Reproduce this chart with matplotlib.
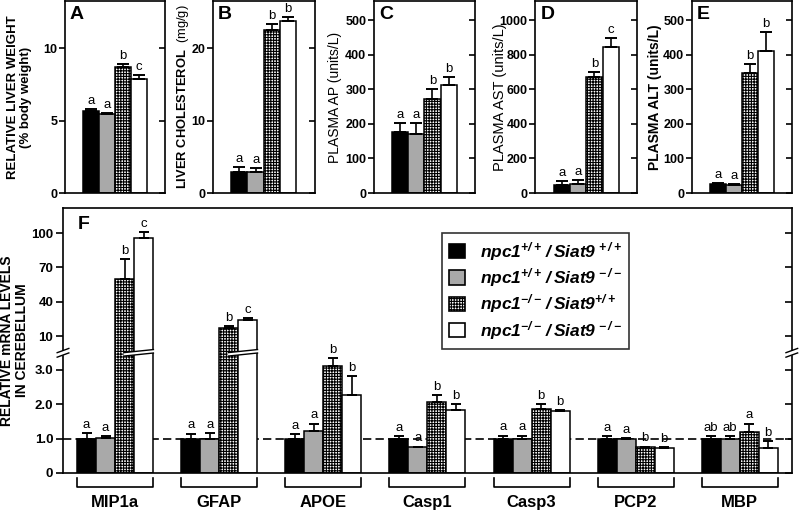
import numpy as np
import matplotlib
matplotlib.use("Agg")
import matplotlib.pyplot as plt
import matplotlib.transforms as mtransforms
from matplotlib.patches import Patch, Polygon

plt.rcParams['font.family'] = 'Liberation Sans'
plt.rcParams['mathtext.fontset'] = 'custom'
plt.rcParams['mathtext.it'] = 'Liberation Sans:bold:italic'
plt.rcParams['mathtext.rm'] = 'Liberation Sans:bold:italic'
plt.rcParams['mathtext.bf'] = 'Liberation Sans:bold'
plt.rcParams['hatch.linewidth'] = 0.8

# genotypes
genotypes = [r'$npc1^{+/+}\,/\,Siat9^{\,+/+}$',
             r'$npc1^{+/+}\,/\,Siat9^{\,-/-}$',
             r'$npc1^{-/-}\,/\,Siat9^{+/+}$',
             r'$npc1^{-/-}\,/\,Siat9^{\,-/-}$']
colors = ['black', '#a9a9a9', 'white', 'white']
hatches = [None, None, '++++++', None]

# panel A-E: liver / plasma
liver_wt = [5.66, 5.45, 8.71, 7.86]
liver_wt_err = [0.11, 0.05, 0.19, 0.28]
liver_wt_sig = ['a', 'a', 'b', 'c']

chol = [2.9, 2.9, 22.5, 23.8]
chol_err = [0.7, 0.6, 0.8, 0.45]
chol_sig = ['a', 'a', 'b', 'b']

ap = [177, 171, 272, 312]
ap_err = [25, 31, 28, 24]
ap_sig = ['a', 'a', 'b', 'b']

ast = [46, 52, 670, 846]
ast_err = [23, 23, 31, 52]
ast_sig = ['a', 'a', 'b', 'c']

alt = [26, 23, 347, 410]
alt_err = [3, 3, 26, 56]
alt_sig = ['a', 'a', 'b', 'b']

# panel F: mRNA levels in cerebellum
genes = ['MIP1a', 'GFAP', 'APOE', 'Casp1', 'Casp3', 'PCP2', 'MBP']
mrna = [
    [1.0, 1.0, 1.0, 1.0, 1.0, 1.0, 1.0],
    [1.03, 1.0, 1.21, 0.75, 1.0, 1.0, 1.0],
    [59.6, 17.0, 3.11, 2.07, 1.87, 0.75, 1.19],
    [96.0, 24.0, 2.28, 1.84, 1.82, 0.73, 0.72],
]
mrna_err = [
    [0.17, 0.15, 0.13, 0.08, 0.09, 0.07, 0.07],
    [0.04, 0.17, 0.23, 0.02, 0.09, 0.01, 0.07],
    [17.4, 1.7, 0.23, 0.21, 0.15, 0.02, 0.25],
    [5.0, 1.6, 0.54, 0.16, 0.02, 0.02, 0.21],
]
mrna_sig = [
    ['a', 'a', 'a', 'a', 'a', 'a', 'ab'],
    ['a', 'a', 'a', 'a', 'a', 'a', 'ab'],
    ['b', 'b', 'b', 'b', 'b', 'b', 'a'],
    ['c', 'c', 'b', 'b', 'b', 'b', 'b'],
]

fig = plt.figure(figsize=(8, 5.12), dpi=100)


def right_ticks(ax, length):
    ax2 = fig.add_axes(ax.get_position(), sharey=ax)
    ax2.patch.set_visible(False)
    for s in ax2.spines.values():
        s.set_visible(False)
    ax2.xaxis.set_visible(False)
    ax2.yaxis.tick_right()
    ax2.tick_params(axis='y', direction='in', length=length, width=1.2,
                    labelright=False)
    return ax2


def small_panel(rect, vals, errs, sig, ytop, ticks, ylabel, lab_x, letter,
                lab_size=9, lab_weight='bold'):
    ax = fig.add_axes(rect)
    xs = np.arange(4)
    bars = ax.bar(xs, vals, width=1.0, color=colors, edgecolor='black',
                  linewidth=1.1, zorder=2)
    for b, h in zip(bars, hatches):
        if h:
            b.set_hatch(h)
    ax.errorbar(xs, vals, yerr=[np.zeros(4), errs], fmt='none',
                ecolor='black', elinewidth=1.2, capsize=4, capthick=1.4,
                zorder=3)
    for x, v, e, s in zip(xs, vals, errs, sig):
        ax.annotate(s, (x, v + e), xytext=(0, 1.5), textcoords='offset points',
                    ha='center', va='bottom', fontsize=9.5)
    ax.set_xlim(-1.625, 4.625)
    ax.set_ylim(0, ytop)
    ax.set_xticks([])
    ax.set_yticks(ticks)
    ax.set_yticklabels([str(t) for t in ticks], fontweight='bold', fontsize=9)
    ax.tick_params(axis='y', direction='out', length=4, width=1.2, pad=1.5)
    for s in ax.spines.values():
        s.set_linewidth(1.2)
    ax.set_ylabel(ylabel, fontsize=lab_size, fontweight=lab_weight,
                  linespacing=1.15)
    ax.yaxis.set_label_coords(lab_x, 0.5)
    ax.text(0.05, 0.975, letter, transform=ax.transAxes, ha='left', va='top',
            fontsize=14, fontweight='bold')
    right_ticks(ax, 4)
    return ax


top_y, top_h = 0.623, 0.375
small_panel([0.08125, top_y, 0.125, top_h], liver_wt, liver_wt_err,
            liver_wt_sig, 13.24, [0, 5, 10],
            'RELATIVE LIVER WEIGHT\n(% body weight)', -0.33, 'A', 9.5)
small_panel([0.266, top_y, 0.1275, top_h], chol, chol_err, chol_sig, 26.5,
            [0, 10, 20], r'$\mathbf{LIVER\ CHOLESTEROL}$  (mg/g)', -0.21, 'B',
            9.3, 'normal')
small_panel([0.4675, top_y, 0.126, top_h], ap, ap_err, ap_sig, 555,
            [0, 100, 200, 300, 400, 500], 'PLASMA AP (units/L)', -0.32, 'C',
            10, 'normal')
small_panel([0.669, top_y, 0.1275, top_h], ast, ast_err, ast_sig, 1110,
            [0, 200, 400, 600, 800, 1000], 'PLASMA AST (units/L)', -0.28, 'D',
            10.5, 'normal')
small_panel([0.865, top_y, 0.125, top_h], alt, alt_err, alt_sig, 555,
            [0, 100, 200, 300, 400, 500], 'PLASMA ALT (units/L)', -0.30, 'E',
            10, 'bold')

# ---- panel F with broken axis ----
LO_TOP = 3.5
HI_BASE, HI_POS, HI_SLOPE = 10.0, 3.99, 0.0333
HI_START = HI_POS + (LO_TOP - HI_BASE) * HI_SLOPE


def fwd(v):
    v = np.asarray(v, dtype=float)
    return np.where(v <= LO_TOP, v, HI_POS + (v - HI_BASE) * HI_SLOPE)


def inv(u):
    u = np.asarray(u, dtype=float)
    return np.where(u <= LO_TOP, u,
                    np.where(u < HI_START, LO_TOP,
                             HI_BASE + (u - HI_POS) / HI_SLOPE))


axF = fig.add_axes([0.07875, 0.0762, 0.911, 0.5176])
axF.set_yscale('function', functions=(fwd, inv))
axF.set_ylim(0, 122)
axF.set_xlim(-0.5, len(genes) - 0.5)

w = 0.1825
gx = np.arange(len(genes))
axF.axhline(1.0, color='black', lw=1.2, ls=(0, (5, 2.5)), zorder=1)
for k in range(4):
    xs = gx + (k - 1.5) * w
    bars = axF.bar(xs, mrna[k], width=w, color=colors[k], edgecolor='black',
                   linewidth=1.1, zorder=2)
    if hatches[k]:
        for b in bars:
            b.set_hatch(hatches[k])
    axF.errorbar(xs, mrna[k], yerr=[np.zeros(len(genes)), mrna_err[k]],
                 fmt='none', ecolor='black', elinewidth=1.2, capsize=3.5,
                 capthick=1.4, zorder=3)
    for x, v, e, s in zip(xs, mrna[k], mrna_err[k], mrna_sig[k]):
        axF.annotate(s, (x, v + e), xytext=(0, 1.5),
                     textcoords='offset points', ha='center', va='bottom',
                     fontsize=9.5)

yt = [0, 1, 2, 3, 10, 40, 70, 100]
axF.set_yticks(yt)
axF.set_yticklabels(['0', '1.0', '2.0', '3.0', '10', '40', '70', '100'],
                    fontweight='bold', fontsize=9.5)
axF.yaxis.set_minor_locator(matplotlib.ticker.NullLocator())
axF.tick_params(axis='y', direction='out', length=5, width=1.2, pad=2)
axF.set_xticks([])
for s in axF.spines.values():
    s.set_linewidth(1.2)
axF.set_ylabel('RELATIVE mRNA LEVELS\nIN CEREBELLUM', fontsize=10,
               fontweight='bold', linespacing=1.1)
axF.yaxis.set_label_coords(-0.047, 0.5)
axF.text(0.02, 0.968, 'F', transform=axF.transAxes, ha='left', va='top',
         fontsize=14, fontweight='bold')
axF2 = right_ticks(axF, 5)
axF2.yaxis.set_minor_locator(matplotlib.ticker.NullLocator())

# break marks
btr = mtransforms.blended_transform_factory(axF.transData, axF.transAxes)
yb, gh, rise = 0.441, 0.013, 0.012
for i, g in enumerate(genes):
    top = max(mrna[2][i], mrna[3][i])
    if top > LO_TOP:
        x0 = gx[i] + 0.5 * w - 0.01
        x1 = gx[i] + 2 * w + 0.01
        axF.add_patch(Polygon([[x0, yb], [x1, yb + rise], [x1, yb + rise + gh],
                               [x0, yb + gh]], closed=True, facecolor='white',
                              edgecolor='none', transform=btr, zorder=5))
        for d in (0, gh):
            axF.plot([x0, x1], [yb + d, yb + rise + d], color='black', lw=1.0,
                     transform=btr, zorder=6, solid_capstyle='butt')
for xa in (0.0, 1.0):
    axF.add_patch(Polygon([[xa - 0.004, yb], [xa + 0.004, yb + 0.006],
                           [xa + 0.004, yb + 0.006 + gh + 0.004],
                           [xa - 0.004, yb + gh + 0.004]], closed=True,
                          facecolor='white', edgecolor='none',
                          transform=axF.transAxes, zorder=7, clip_on=False))
    for d in (0, gh + 0.004):
        axF.plot([xa - 0.008, xa + 0.008], [yb - 0.004 + d, yb + 0.012 + d],
                 color='black', lw=1.0, transform=axF.transAxes, zorder=8,
                 clip_on=False)

# group brackets and labels
for i, g in enumerate(genes):
    x0 = gx[i] - 2 * w
    x1 = gx[i] + 2 * w
    axF.plot([x0, x0, x1, x1], [-0.02, -0.053, -0.053, -0.02], color='black',
             lw=1.2, transform=btr, clip_on=False)
    axF.text(gx[i], -0.113, g, transform=btr, ha='center', va='center',
             fontsize=12, fontweight='bold')

handles = [Patch(facecolor=c, edgecolor='black', hatch=h, linewidth=1.2)
           for c, h in zip(colors, hatches)]
leg = axF.legend(handles, genotypes, loc='upper left',
                 bbox_to_anchor=(0.52, 0.906), frameon=True, fancybox=False,
                 edgecolor='black', fontsize=12.5, handlelength=0.9,
                 handleheight=0.9, handletextpad=0.9, labelspacing=0.2,
                 borderpad=0.4, borderaxespad=0)
leg.get_frame().set_linewidth(1.2)
leg.set_zorder(10)

fig.savefig('out.png', dpi=100)
